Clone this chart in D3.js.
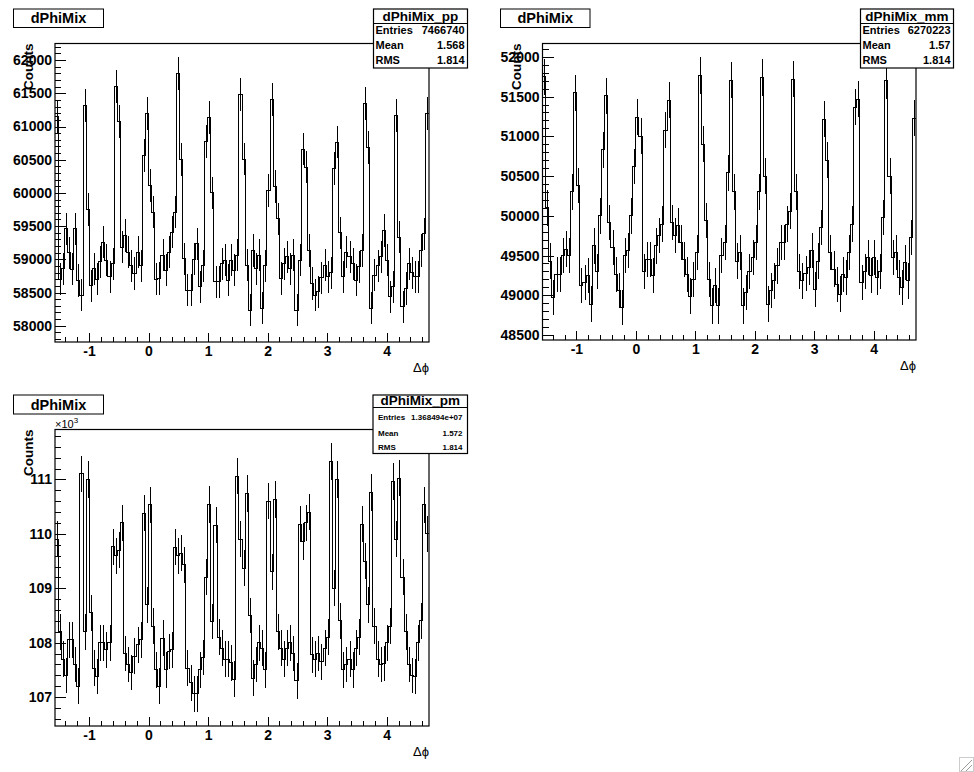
<!DOCTYPE html>
<html><head><meta charset="utf-8">
<script src="https://cdn.jsdelivr.net/npm/d3@7"></script>
<style>
body{margin:0;background:#fff;}
svg{display:block;}
text{font-family:"Liberation Sans",Arial,Helvetica,sans-serif;}
</style></head>
<body>
<svg id="c" width="974" height="772"></svg>
<script>
// ---- data ----
const xMin = -Math.PI/2, xMax = 3*Math.PI/2;
const xTicks = [-1,0,1,2,3,4];
const ppValues = [
 61150,58700,58860,59460,59100,58850,59460,58680,58460,61320,
 59750,58600,58860,58700,58960,59260,58985,58735,58935,61600,
 61080,59185,59360,59110,58900,58785,59110,58900,60560,61200,
 60110,59710,58700,58710,59060,58835,59110,59410,59710,61800,
 60500,59010,58535,58535,59000,59235,58585,58900,60770,61130,
 60000,58660,58660,58935,58985,58685,58985,58835,59060,61480,
 60510,58910,58235,59135,58860,59060,58260,58900,60035,61400,
 60100,59610,58710,58935,59035,58860,59060,58235,58985,60660,
 60390,59135,58635,58460,58510,58720,58910,58735,58800,60370,
 60765,59400,58735,59110,59035,58935,58685,58885,59135,61350,
 60680,58260,58760,58900,59035,59435,58985,58435,58585,61170,
 59335,58285,58560,58935,58800,58735,58735,59135,59385,61200
];
const mmValues = [
 51750,50100,49430,48970,49265,49265,49500,49580,49500,50300,
 51550,50380,49120,49160,49245,48890,49620,49300,50000,50830,
 51510,49915,49600,49265,49055,48845,49500,49560,50000,50620,
 51240,51000,49300,49450,49450,49245,49620,49750,49895,51075,
 51455,49915,49750,49880,49665,49450,49265,48990,49200,49540,
 51766,50900,49940,49200,48865,49120,48865,49500,49665,50540,
 51707,50300,49430,49540,48865,49035,49300,49475,49665,50300,
 51740,50500,48890,49055,49180,49370,49665,49665,49895,50060,
 51716,50300,49300,49180,49270,49350,49560,49075,49430,49850,
 51216,50700,49540,49330,49140,49015,49265,49225,49540,49895,
 51366,51466,49160,49300,49475,49250,49475,49225,49300,49980,
 51700,50500,49475,49540,49225,49100,49410,49180,49730,51229
];
const pmValues = [
 109900,108200,107700,107400,108050,108050,107600,107200,111100,108200,
 111000,108550,107530,107380,108000,108000,107870,108000,109760,109600,
 109700,110200,107800,107600,107450,107750,107960,108050,110380,108700,
 110530,108300,107500,107200,108080,107500,107840,107870,109750,109600,
 109640,109430,107530,107260,107060,107060,107500,107730,109200,110540,
 108390,110160,108100,107900,107700,107700,107630,107330,111060,109900,
 109370,110740,108500,107350,107600,108000,107900,107500,110600,109300,
 110630,108200,107900,107700,107900,108000,107800,107300,110180,109860,
 110200,110400,107780,107700,107800,107650,107900,108100,111330,109000,
 111000,108400,107500,107600,107700,107500,107900,108100,110180,109500,
 108700,110760,108300,107700,107600,107620,108000,108300,110960,109900,
 111020,109200,108200,107600,107400,107380,108000,108400,110530,110000
];
const ppYTicks = [58000,58500,59000,59500,60000,60500,61000,61500,62000];
const mmYTicks = [48500,49000,49500,50000,50500,51000,51500,52000];
const pmYTicks = [107000,108000,109000,110000,111000];
const ppStats = ["dPhiMix_pp","7466740","1.568","1.814"];
const mmStats = ["dPhiMix_mm","6270223","1.57","1.814"];
const pmStats = ["dPhiMix_pm","1.368494e+07","1.572","1.814"];

const panels = [
 {vals:ppValues, yTicks:ppYTicks, yDom:[57755,62250], minorStep:100, x0:55, x1:429, y0:43.5, y1:342,
  titleBox:[13.5,9,90,18.5], stats:ppStats, statBox:[373.5,9,94,59], statSmall:false, fmt:d=>d, exp:false},
 {vals:mmValues, yTicks:mmYTicks, yDom:[48437,52168], minorStep:100, x0:542.5, x1:916, y0:43.5, y1:340,
  titleBox:[500.5,9,89.5,18.5], stats:mmStats, statBox:[860.5,9,93,59], statSmall:false, fmt:d=>d, exp:false},
 {vals:pmValues, yTicks:pmYTicks, yDom:[106470,111917], minorStep:200, x0:55, x1:429, y0:429.5, y1:726,
  titleBox:[13.5,395,90,19], stats:pmStats, statBox:[373,395,94.5,58.5], statSmall:true, fmt:d=>d/1000, exp:true}
];

const svg = d3.select("#c");

panels.forEach((p,pi)=>{
  const g = svg.append("g");
  const x = d3.scaleLinear().domain([xMin,xMax]).range([p.x0,p.x1]);
  const y = d3.scaleLinear().domain(p.yDom).range([p.y1,p.y0]);
  const n = p.vals.length;
  const bw = (xMax-xMin)/n;
  const clipId = "clip"+pi;
  g.append("clipPath").attr("id",clipId).append("rect")
    .attr("x",p.x0).attr("y",p.y0).attr("width",p.x1-p.x0).attr("height",p.y1-p.y0);
  const plot = g.append("g").attr("clip-path",`url(#${clipId})`);
  const pts = [];
  p.vals.forEach((v,i)=>{ pts.push([xMin+i*bw, v]); pts.push([xMin+(i+1)*bw, v]); });
  const line = d3.line().x(d=>x(d[0])).y(d=>y(d[1]));
  plot.append("path").attr("d",line(pts)).attr("fill","none").attr("stroke","#000")
    .attr("stroke-width",1).attr("shape-rendering","crispEdges");
  plot.selectAll("line.err").data(p.vals).join("line").attr("class","err")
    .attr("x1",(v,i)=>Math.round(x(xMin+(i+0.5)*bw))+0.5)
    .attr("x2",(v,i)=>Math.round(x(xMin+(i+0.5)*bw))+0.5)
    .attr("y1",v=>y(v-Math.sqrt(v))).attr("y2",v=>y(v+Math.sqrt(v)))
    .attr("stroke","#000").attr("stroke-width",1).attr("shape-rendering","crispEdges");
  g.append("rect").attr("x",p.x0).attr("y",p.y0).attr("width",p.x1-p.x0).attr("height",p.y1-p.y0)
    .attr("fill","none").attr("stroke","#000").attr("stroke-width",1.2);
  const ya = d3.axisLeft(y).tickValues(p.yTicks).tickSize(-11).tickPadding(3).tickFormat(p.fmt);
  const yg = g.append("g").attr("transform",`translate(${p.x0},0)`).call(ya);
  yg.select(".domain").remove();
  yg.selectAll("text").attr("font-size","14px").attr("font-weight","bold").attr("fill","#000")
    .attr("font-family","Liberation Sans, Arial, sans-serif");
  const minor = d3.range(Math.ceil(p.yDom[0]/p.minorStep)*p.minorStep, p.yDom[1], p.minorStep);
  const ym = d3.axisLeft(y).tickValues(minor).tickSize(-6).tickFormat("");
  const ymg = g.append("g").attr("transform",`translate(${p.x0},0)`).call(ym);
  ymg.select(".domain").remove();
  const xa = d3.axisBottom(x).tickValues(xTicks).tickSize(-9).tickPadding(4).tickFormat(d3.format("d"));
  const xg = g.append("g").attr("transform",`translate(0,${p.y1})`).call(xa);
  xg.select(".domain").remove();
  xg.selectAll("text").attr("font-size","14px").attr("font-weight","bold").attr("fill","#000")
    .attr("font-family","Liberation Sans, Arial, sans-serif").text(d=>String(d));
  const xminor = d3.range(-14,47,2).map(d=>d/10);
  const xm = d3.axisBottom(x).tickValues(xminor).tickSize(-5).tickFormat("");
  const xmg = g.append("g").attr("transform",`translate(0,${p.y1})`).call(xm);
  xmg.select(".domain").remove();
  g.selectAll(".tick line").attr("stroke","#000").attr("shape-rendering","crispEdges");
  g.append("text").attr("x",p.x1).attr("y",p.y1+30).attr("text-anchor","end")
    .attr("font-size","13px").attr("font-family","DejaVu Serif, serif").text("Δϕ");
  g.append("text").attr("transform",`translate(${p.x0-22},${p.y0}) rotate(-90)`)
    .attr("text-anchor","end").attr("font-size","13.5px").attr("font-weight","bold").text("Counts");
  if(p.exp){
    const t = g.append("text").attr("x",p.x0).attr("y",p.y0-2).attr("font-size","11px");
    t.append("tspan").text("×10");
    t.append("tspan").attr("dy",-5).attr("font-size","8px").text("3");
  }
  const tb = p.titleBox;
  g.append("rect").attr("x",tb[0]).attr("y",tb[1]).attr("width",tb[2]).attr("height",tb[3])
    .attr("fill","#fff").attr("stroke","#000").attr("stroke-width",1);
  g.append("text").attr("x",tb[0]+tb[2]/2).attr("y",tb[1]+tb[3]/2+5).attr("text-anchor","middle")
    .attr("font-size","14.5px").attr("font-weight","bold").text("dPhiMix");
  const sb = p.statBox;
  g.append("rect").attr("x",sb[0]).attr("y",sb[1]).attr("width",sb[2]).attr("height",sb[3])
    .attr("fill","#fff").attr("stroke","#000").attr("stroke-width",1.2);
  const sepY = p.statSmall ? sb[1]+12.5 : sb[1]+14.5;
  g.append("line").attr("x1",sb[0]).attr("x2",sb[0]+sb[2]).attr("y1",sepY).attr("y2",sepY)
    .attr("stroke","#000").attr("stroke-width",1);
  g.append("text").attr("x",sb[0]+sb[2]/2).attr("y",sepY-2.5).attr("text-anchor","middle")
    .attr("font-size","13.5px").attr("font-weight","bold").text(p.stats[0]);
  const labels = ["Entries","Mean","RMS"];
  const rowY = p.statSmall ? [sepY+12, sepY+28.5, sepY+42] : [sepY+10.5, sepY+25.5, sepY+40.5];
  const fs = p.statSmall ? "8px" : "11px";
  labels.forEach((l,k)=>{
    g.append("text").attr("x",sb[0]+(p.statSmall?5:2)).attr("y",rowY[k]).attr("font-size",fs)
      .attr("font-weight","bold").text(l);
    g.append("text").attr("x",sb[0]+sb[2]-(p.statSmall?5:3)).attr("y",rowY[k]).attr("font-size",fs)
      .attr("text-anchor","end").attr("font-weight","bold").text(p.stats[k+1]);
  });
});
const grip = svg.append("g").attr("stroke","#999").attr("stroke-width",1);
[[972,760,960,772],[972,765,965,772]].forEach(d=>grip.append("line")
  .attr("x1",d[0]).attr("y1",d[1]).attr("x2",d[2]).attr("y2",d[3]));
svg.append("rect").attr("x",959.5).attr("y",757.5).attr("width",14).attr("height",14)
  .attr("fill","none").attr("stroke","#ccc");
</script>
</body></html>
